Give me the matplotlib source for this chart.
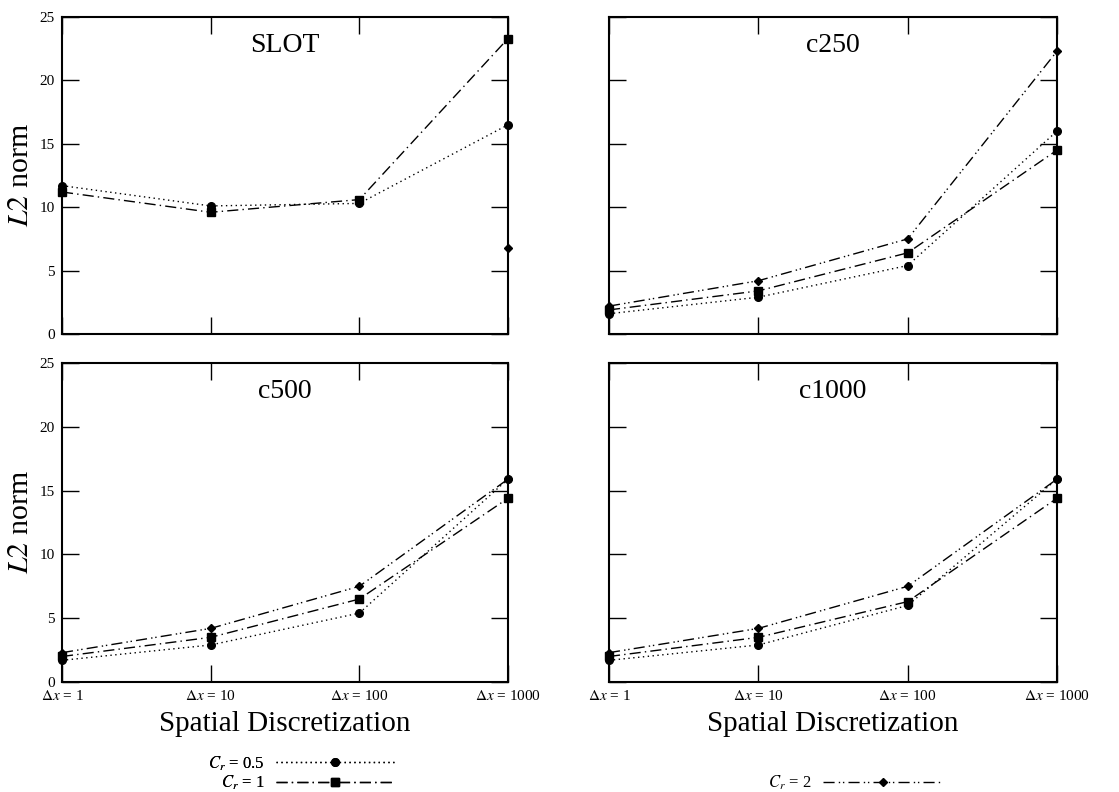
import numpy as np
import matplotlib
matplotlib.use("Agg")
import matplotlib.pyplot as plt
from matplotlib.lines import Line2D

plt.rcParams['font.family'] = ['Liberation Serif', 'DejaVu Serif']
plt.rcParams['mathtext.fontset'] = 'stix'

# ---- data ----
x_labels = [r'$\Delta x$ = 1', r'$\Delta x$ = 10', r'$\Delta x$ = 100', r'$\Delta x$ = 1000']
panels = ['SLOT', 'c250', 'c500', 'c1000']
series_labels = [r'$C_r$ = 0.5', r'$C_r$ = 1', r'$C_r$ = 2']

slot_cr05 = [11.7, 10.1, 10.3, 16.5]
slot_cr1 = [11.2, 9.6, 10.6, 23.3]
slot_cr2 = [np.nan, np.nan, np.nan, 6.8]

c250_cr05 = [1.6, 2.9, 5.4, 16.0]
c250_cr1 = [1.9, 3.4, 6.4, 14.5]
c250_cr2 = [2.2, 4.2, 7.5, 22.3]

c500_cr05 = [1.7, 2.9, 5.4, 15.9]
c500_cr1 = [2.0, 3.5, 6.5, 14.4]
c500_cr2 = [2.3, 4.2, 7.5, 15.9]

c1000_cr05 = [1.7, 2.9, 6.0, 15.9]
c1000_cr1 = [2.0, 3.5, 6.3, 14.4]
c1000_cr2 = [2.3, 4.2, 7.5, 15.9]

data = {
    'SLOT': [slot_cr05, slot_cr1, slot_cr2],
    'c250': [c250_cr05, c250_cr1, c250_cr2],
    'c500': [c500_cr05, c500_cr1, c500_cr2],
    'c1000': [c1000_cr05, c1000_cr1, c1000_cr2],
}

styles = [
    dict(linestyle=(0, (1, 2.5)), marker='o', markersize=5.5),
    dict(linestyle=(0, (8, 3, 1, 3)), marker='s', markersize=5.5),
    dict(linestyle=(0, (8, 3, 1, 2, 1, 3)), marker='D', markersize=4),
]

W, H = 1119, 792
fig = plt.figure(figsize=(W / 100, H / 100), dpi=100)

def rect(l, t, r, b):
    return [l / W, 1 - b / H, (r - l) / W, (b - t) / H]

rects = [rect(62, 17, 508, 334), rect(609, 17, 1057, 334),
         rect(62, 363, 508, 682), rect(609, 363, 1057, 682)]

xs = np.arange(len(x_labels))
for i, (name, r) in enumerate(zip(panels, rects)):
    ax = fig.add_axes(r)
    for vals, st in zip(data[name], styles):
        ax.plot(xs, vals, color='black', linewidth=1.0, clip_on=False,
                markeredgecolor='black', markerfacecolor='black', **st)
    ax.set_xlim(0, 3)
    ax.set_ylim(0, 25)
    ax.set_xticks(xs)
    ax.set_yticks([0, 5, 10, 15, 20, 25])
    ax.tick_params(direction='in', length=12, width=1.0, top=True, right=True,
                   labelsize=11, pad=5)
    for sp in ax.spines.values():
        sp.set_linewidth(1.5)
    ax.text(0.5, 0.91, name, transform=ax.transAxes, ha='center', va='center',
            fontsize=20)
    if i >= 2:
        ax.set_xticklabels(x_labels)
        ax.set_xlabel('Spatial Discretization', fontsize=21, labelpad=6)
    else:
        ax.set_xticklabels([])
    if i % 2 == 0:
        ax.set_ylabel(r'$\mathit{L2}$ norm', fontsize=21.5, labelpad=4)
    else:
        ax.set_yticklabels([])

handles = [Line2D([], [], color='black', linewidth=1.0,
                  markerfacecolor='black', markeredgecolor='black', **st) for st in styles]

leg1 = fig.legend(handles[:2], series_labels[:2], loc='center',
                  bbox_to_anchor=(301 / W, 1 - 773 / H), frameon=False,
                  markerfirst=False, numpoints=1, handlelength=7.1,
                  fontsize=12, labelspacing=0.05, handletextpad=0.7,
                  borderpad=0)
fig.add_artist(leg1)
leg2 = fig.legend(handles[2:], series_labels[2:], loc='center',
                  bbox_to_anchor=(855 / W, 1 - 783 / H), frameon=False,
                  markerfirst=False, numpoints=1, handlelength=7.1,
                  fontsize=12, handletextpad=0.7, borderpad=0)

fig.savefig('out.png', dpi=100)
